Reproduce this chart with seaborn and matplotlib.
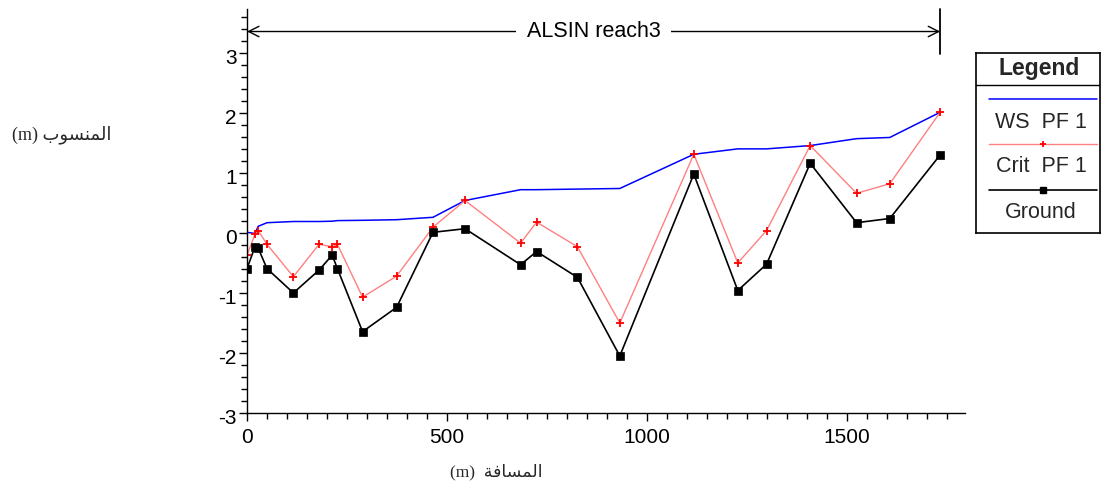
import matplotlib
matplotlib.use("Agg")
import matplotlib.pyplot as plt
import matplotlib.transforms as mtrans
from matplotlib.ticker import MultipleLocator
import seaborn as sns

# stations (m) and elevations (m)
station = [0, 20, 28, 50, 116, 180, 213, 226, 289, 374, 465, 545, 684, 724,
           826, 932, 1117, 1227, 1299, 1408, 1524, 1607, 1733]
ws_pf1 = [0.01, -0.01, 0.11, 0.17, 0.19, 0.19, 0.195, 0.205, 0.21, 0.22, 0.26,
          0.54, 0.72, 0.72, 0.73, 0.74, 1.31, 1.40, 1.40, 1.455, 1.57, 1.59, 2.01]
crit_pf1 = [-0.37, -0.02, 0.04, -0.19, -0.73, -0.19, -0.23, -0.19, -1.07,
            -0.72, 0.095, 0.54, -0.17, 0.18, -0.23, -1.50, 1.31, -0.50, 0.04,
            1.455, 0.66, 0.82, 2.01]
ground = [-0.595, -0.23, -0.255, -0.595, -1.00, -0.62, -0.37, -0.595, -1.645,
          -1.24, 0.01, 0.07, -0.53, -0.31, -0.74, -2.05, 0.98, -0.96, -0.52,
          1.16, 0.17, 0.24, 1.30]

reach_name = "ALSIN reach3"
legend_labels = ["WS  PF 1", "Crit  PF 1", "Ground"]
# Arabic labels, written in shaped presentation forms (visual order)
ylabel_txt = "(m) " + "\uFE8F\uFEEE\uFEB4\uFEE8\uFEE4\uFEDF\uFE8D"
xlabel_txt = "(m)  " + "\uFE94\uFED3\uFE8E\uFEB4\uFEE4\uFEDF\uFE8D"

sns.set_theme(style="ticks")
plt.rcParams["font.family"] = ["Liberation Sans", "DejaVu Sans"]
plt.rcParams["axes.unicode_minus"] = False

W, H = 1105, 490
fig = plt.figure(figsize=(W / 100, H / 100), dpi=100)
fig.patch.set_facecolor("white")

def px_axes(x0, y0, x1, y1):
    return fig.add_axes([x0 / W, 1 - y1 / H, (x1 - x0) / W, (y1 - y0) / H])

ax = px_axes(247, 9, 965, 413)

sns.lineplot(x=station, y=ws_pf1, ax=ax, color="#0000ff", lw=1.1, sort=False)
sns.lineplot(x=station, y=crit_pf1, ax=ax, color="#ff8080", lw=1.0, sort=False,
             marker="+", markersize=6, markeredgecolor="red", markeredgewidth=1.3)
sns.lineplot(x=station, y=ground, ax=ax, color="black", lw=1.2, sort=False,
             marker="s", markersize=5.5, markeredgecolor="black",
             markerfacecolor="black", markeredgewidth=0.5)

ax.set_xlim(0, 1795)
ax.set_ylim(-3, 3.73)
ax.set_xticks([0, 500, 1000, 1500])
ax.xaxis.set_minor_locator(MultipleLocator(50))
ax.set_yticks([-3, -2, -1, 0, 1, 2, 3])
ax.yaxis.set_minor_locator(MultipleLocator(0.2))
ax.set_facecolor("white")
for s in ["top", "right"]:
    ax.spines[s].set_visible(False)
for s in ["left", "bottom"]:
    ax.spines[s].set_color("black")
    ax.spines[s].set_linewidth(1.0)
ax.tick_params(which="major", direction="out", length=5.5, width=1,
               color="black", labelsize=15, labelcolor="black")
ax.tick_params(axis="x", which="major", pad=5)
ax.tick_params(axis="y", which="major", pad=2)
ax.tick_params(which="minor", direction="out", length=4, width=1, color="black")
# y labels sit a little below their ticks in the original
shift = mtrans.ScaledTranslation(0, -4 / 100, fig.dpi_scale_trans)
for lab in ax.get_yticklabels():
    lab.set_transform(lab.get_transform() + shift)
ax.set_xlabel("")
ax.set_ylabel("")

# reach extent arrow along the top
y_arrow = 3.355
ax.annotate("", xy=(station[0], y_arrow), xytext=(station[-1], y_arrow),
            arrowprops=dict(arrowstyle="<->,head_length=0.5,head_width=0.25",
                            lw=1, color="black", shrinkA=0, shrinkB=0,
                            mutation_scale=15))
ax.plot([station[-1], station[-1]], [2.98, 3.73], color="black", lw=1.3,
        clip_on=False)
ax.text((station[0] + station[-1]) / 2, y_arrow, reach_name, ha="center",
        va="center", fontsize=15.5, color="black",
        bbox=dict(boxstyle="square,pad=0.5", fc="white", ec="none"))

# axis labels
fig.text(62 / W, 1 - 135 / H, ylabel_txt, ha="center", va="center",
         fontsize=13, family=["Liberation Serif", "DejaVu Sans"])
fig.text(496 / W, 1 - 472 / H, xlabel_txt, ha="center", va="center",
         fontsize=12.5, family=["Liberation Serif", "DejaVu Sans"])

# legend box
lg = px_axes(976, 53, 1100, 233)
lg.set_xlim(976, 1100)
lg.set_ylim(233, 53)
lg.set_xticks([])
lg.set_yticks([])
for s in lg.spines.values():
    s.set_visible(True)
    s.set_color("black")
    s.set_linewidth(1.2)
lg.axhline(85, color="black", lw=1)
lg.text(1039, 68, "Legend", ha="center", va="center", fontsize=16.5,
        fontweight="bold")
lg.plot([989, 1097], [99, 99], color="#0000ff", lw=1.1)
lg.text(1041, 122, legend_labels[0], ha="center", va="center", fontsize=15.5)
lg.plot([989, 1097], [144, 144], color="#ff8080", lw=1.0)
lg.plot([1043], [144], marker="+", color="red", markersize=5, mew=1.3)
lg.text(1041, 167, legend_labels[1], ha="center", va="center", fontsize=15.5)
lg.plot([989, 1097], [190, 190], color="black", lw=1.2)
lg.plot([1043], [190], marker="s", color="black", markersize=5)
lg.text(1041, 212, legend_labels[2], ha="center", va="center", fontsize=15.5)

fig.savefig("out.png", dpi=100, facecolor="white")
